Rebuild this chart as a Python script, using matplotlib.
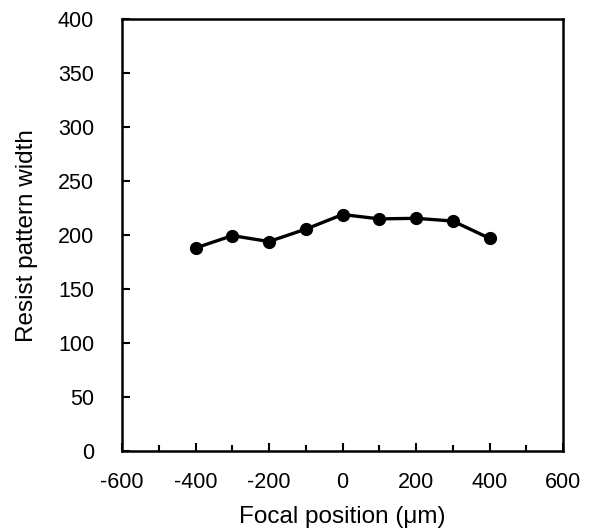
import numpy as np
import matplotlib
matplotlib.use('Agg')
import matplotlib.pyplot as plt
from matplotlib.ticker import MultipleLocator, FuncFormatter

plt.rcParams['font.family'] = ['Liberation Sans', 'DejaVu Sans']

# focal offset (um) and measured resist width
focal_pos = [-400, -300, -200, -100, 0, 100, 200, 300, 400]
pattern_width = [188, 199.5, 194, 205.5, 219, 215, 215.5, 213, 197]

fig = plt.figure(figsize=(5.92, 5.28), dpi=100)
ax = fig.add_axes([0.2061, 0.1458, 0.745, 0.818])

ax.plot(focal_pos, pattern_width, color='black', linewidth=2.4,
        marker='o', markersize=8.5, markerfacecolor='black')

ax.set_xlim(-600, 600)
ax.set_ylim(0, 400)
ax.xaxis.set_major_locator(MultipleLocator(200))
ax.xaxis.set_minor_locator(MultipleLocator(100))
ax.yaxis.set_major_locator(MultipleLocator(50))
# plain hyphen for negatives
plain = FuncFormatter(lambda v, p: '%d' % v)
ax.xaxis.set_major_formatter(plain)
ax.yaxis.set_major_formatter(plain)

ax.tick_params(axis='both', which='major', direction='in', length=6, width=1.5,
               labelsize=15.5, colors='black')
ax.tick_params(axis='x', which='major', pad=15)
ax.tick_params(axis='y', which='major', pad=20)
ax.tick_params(axis='x', which='minor', direction='in', length=4, width=1.5)
ax.tick_params(top=False, right=False)

for sp in ax.spines.values():
    sp.set_linewidth(1.8)

ax.set_xlabel('Focal position (μm)', fontsize=17.5)
ax.set_ylabel('Resist pattern width', fontsize=17.5)
ax.xaxis.set_label_coords(0.5, -0.127)
ax.yaxis.set_label_coords(-0.19, 0.5)

fig.savefig('out.png', dpi=100)
